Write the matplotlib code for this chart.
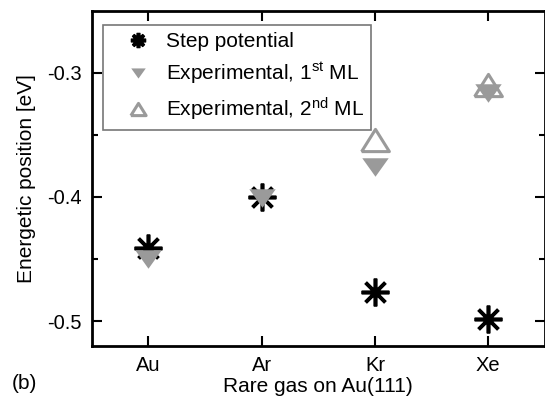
import numpy as np
import matplotlib
matplotlib.use("Agg")
import matplotlib.pyplot as plt
from matplotlib.ticker import FixedLocator, FormatStrFormatter

plt.rcParams.update({
    "font.family": ["Liberation Sans", "DejaVu Sans"],
    "mathtext.fontset": "custom",
    "mathtext.rm": "Liberation Sans",
    "mathtext.default": "regular",
    "axes.unicode_minus": False,
})

# rare-gas overlayers on Au(111)
gases = ["Au", "Ar", "Kr", "Xe"]
step_potential = [-0.441, -0.400, -0.477, -0.498]
exp_1st_ml = [-0.450, -0.401, -0.376, -0.316]
exp_2nd_ml = [np.nan, np.nan, -0.354, -0.310]

GRAY = "#9a9a9a"

x = np.arange(1, len(gases) + 1)

fig = plt.figure(figsize=(5.45, 4.04), dpi=100)
ax = fig.add_axes([0.168, 0.144, 0.832, 0.829])

# filled down-triangle, a bit wider than tall
tri_down = [(-1, 0.7), (1, 0.7), (0, -0.7), (-1, 0.7)]
tri_up = [(-1, -0.8), (1, -0.8), (0, 0.8), (-1, -0.8)]

ax.plot(x, step_potential, ls="none", marker=(8, 2, 0), ms=20, mec="black",
        mew=2.6, label="Step potential", zorder=3)
ax.plot(x, exp_1st_ml, ls="none", marker=tri_down, ms=19, mfc=GRAY, mec=GRAY,
        mew=0, label="Experimental, 1$^{st}$ ML", zorder=4)
ax.plot(x, exp_2nd_ml, ls="none", marker=tri_up, ms=20, mfc="none", mec=GRAY,
        mew=2.2, label="Experimental, 2$^{nd}$ ML", zorder=4)

ax.set_xlim(0.5, 4.5)
ax.set_ylim(-0.52, -0.25)
ax.xaxis.set_major_locator(FixedLocator(x))
ax.set_xticklabels(gases)
ax.yaxis.set_major_locator(FixedLocator([-0.5, -0.4, -0.3]))
ax.yaxis.set_minor_locator(FixedLocator([-0.45, -0.35]))
ax.yaxis.set_major_formatter(FormatStrFormatter("%.1f"))

ax.tick_params(which="both", direction="in", top=True, right=True,
               width=1.5, labelsize=14.5, pad=7)
ax.tick_params(which="major", length=7)
ax.tick_params(which="minor", length=4)
for sp in ax.spines.values():
    sp.set_linewidth(2)

ax.set_xlabel("Rare gas on Au(111)", fontsize=15, labelpad=2)
ax.set_ylabel("Energetic position [eV]", fontsize=15, labelpad=8)
fig.text(0.022, 0.05, "(b)", fontsize=15, ha="left", va="center")

leg = ax.legend(loc="upper left", bbox_to_anchor=(0.026, 0.958), fontsize=15,
                fancybox=False, framealpha=1, edgecolor="#777777",
                handlelength=2.6, handletextpad=0.05, borderpad=0.35,
                labelspacing=0.45, markerscale=0.55, borderaxespad=0)
leg.get_frame().set_linewidth(1.2)

fig.savefig("out.png", dpi=100)
